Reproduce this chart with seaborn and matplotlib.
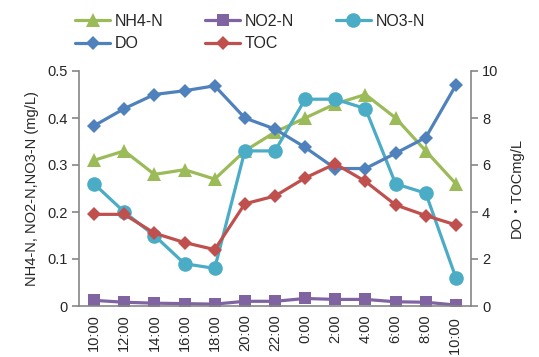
import matplotlib
matplotlib.use("Agg")
import matplotlib.pyplot as plt
import seaborn as sns
import pandas as pd
from matplotlib.lines import Line2D

times = ["10:00", "12:00", "14:00", "16:00", "18:00", "20:00", "22:00",
         "0:00", "2:00", "4:00", "6:00", "8:00", "10:00 "]
nh4 = [0.31, 0.33, 0.28, 0.29, 0.27, 0.33, 0.37, 0.40, 0.43, 0.45, 0.40, 0.33, 0.26]
no2 = [0.012, 0.008, 0.006, 0.005, 0.004, 0.010, 0.010, 0.016, 0.014, 0.014, 0.009, 0.008, 0.002]
no3 = [0.26, 0.20, 0.15, 0.09, 0.08, 0.33, 0.33, 0.44, 0.44, 0.42, 0.26, 0.24, 0.06]
do = [7.67, 8.40, 9.00, 9.16, 9.37, 8.00, 7.53, 6.75, 5.85, 5.85, 6.50, 7.17, 9.40]
toc = [3.90, 3.90, 3.10, 2.70, 2.40, 4.35, 4.68, 5.45, 6.05, 5.30, 4.30, 3.85, 3.45]

sns.set_theme(style="white")
plt.rcParams['font.family'] = ['Liberation Sans', 'Noto Sans CJK JP', 'DejaVu Sans']

C_NH4 = "#9BBB59"
C_NO2 = "#8064A2"
C_NO3 = "#4BACC6"
C_DO = "#4F81BD"
C_TOC = "#C0504D"
GREY = "#868686"

fig = plt.figure(figsize=(5.39, 3.57), dpi=100)
ax = fig.add_axes([79/539, 51/357, 392/539, 235/357])
ax2 = ax.twinx()

df = pd.DataFrame({"time": times, "NH4": nh4, "NO2": no2, "NO3": no3, "DO": do, "TOC": toc})

lw = 2.3
MS_TRI, MS_SQ, MS_CIR, MS_DIA = 9.5, 9, 10.5, 7.5
sns.lineplot(data=df, x="time", y="NH4", ax=ax, color=C_NH4, marker="^", markersize=MS_TRI,
             markeredgewidth=0, linewidth=lw, sort=False)
sns.lineplot(data=df, x="time", y="NO2", ax=ax, color=C_NO2, marker="s", markersize=MS_SQ,
             markeredgewidth=0, linewidth=lw, sort=False)
sns.lineplot(data=df, x="time", y="NO3", ax=ax, color=C_NO3, marker="o", markersize=MS_CIR,
             markeredgewidth=0, linewidth=lw, sort=False)
sns.lineplot(data=df, x="time", y="DO", ax=ax2, color=C_DO, marker="D", markersize=MS_DIA,
             markeredgewidth=0, linewidth=lw, sort=False)
sns.lineplot(data=df, x="time", y="TOC", ax=ax2, color=C_TOC, marker="D", markersize=MS_DIA,
             markeredgewidth=0, linewidth=lw, sort=False)

n = len(times)
for a in (ax, ax2):
    a.set_xlim(-0.5, n - 0.5)
    a.set_xlabel("")
    for s in a.spines.values():
        s.set_visible(False)
    a.grid(False)

ax.set_ylim(0, 0.5)
ax.set_yticks([0, 0.1, 0.2, 0.3, 0.4, 0.5])
ax.set_yticklabels(["0", "0.1", "0.2", "0.3", "0.4", "0.5"])
ax2.set_ylim(0, 10)
ax2.set_yticks([0, 2, 4, 6, 8, 10])
ax2.set_yticklabels(["0", "2", "4", "6", "8", "10"])

ax.spines["left"].set_visible(True)
ax.spines["bottom"].set_visible(True)
ax2.spines["right"].set_visible(True)
for sp in (ax.spines["left"], ax.spines["bottom"], ax2.spines["right"]):
    sp.set_color(GREY)
    sp.set_linewidth(1.2)

ax.set_xticks(range(n))
ax.set_xticklabels(times, rotation=90, fontsize=10.5)
ax.set_xticks([i - 0.5 for i in range(n + 1)], minor=True)
ax.tick_params(axis="x", which="major", length=0, pad=6)
ax.tick_params(axis="x", which="minor", length=5, color=GREY, width=1.2, direction="out")
ax.tick_params(axis="y", length=5, color=GREY, width=1.2, direction="out", labelsize=10.5, pad=3,
               left=True)
ax2.tick_params(axis="y", length=5, color=GREY, width=1.2, direction="out", labelsize=10.5, pad=3,
                right=True)

ax.set_ylabel("NH4-N, NO2-N,NO3-N (mg/L)", fontsize=10.5, labelpad=6)
ax2.set_ylabel("DO・TOCmg/L", fontsize=10.5, labelpad=8)

handles = [
    Line2D([], [], color=C_NH4, marker="^", markersize=MS_TRI, markeredgewidth=0, linewidth=lw),
    Line2D([], [], color=C_DO, marker="D", markersize=MS_DIA, markeredgewidth=0, linewidth=lw),
    Line2D([], [], color=C_NO2, marker="s", markersize=MS_SQ, markeredgewidth=0, linewidth=lw),
    Line2D([], [], color=C_TOC, marker="D", markersize=MS_DIA, markeredgewidth=0, linewidth=lw),
    Line2D([], [], color=C_NO3, marker="o", markersize=MS_CIR, markeredgewidth=0, linewidth=lw),
]
labels = ["NH4-N", "DO", "NO2-N", "TOC", "NO3-N"]
fig.legend(handles, labels, ncol=3, loc="upper left", bbox_to_anchor=(75/539, 1 - 14/357),
           frameon=False, fontsize=11.5, handlelength=2.2, handletextpad=0.3,
           columnspacing=2.6, labelspacing=0.45, borderaxespad=0, borderpad=0)

fig.savefig("out.png", dpi=100)
